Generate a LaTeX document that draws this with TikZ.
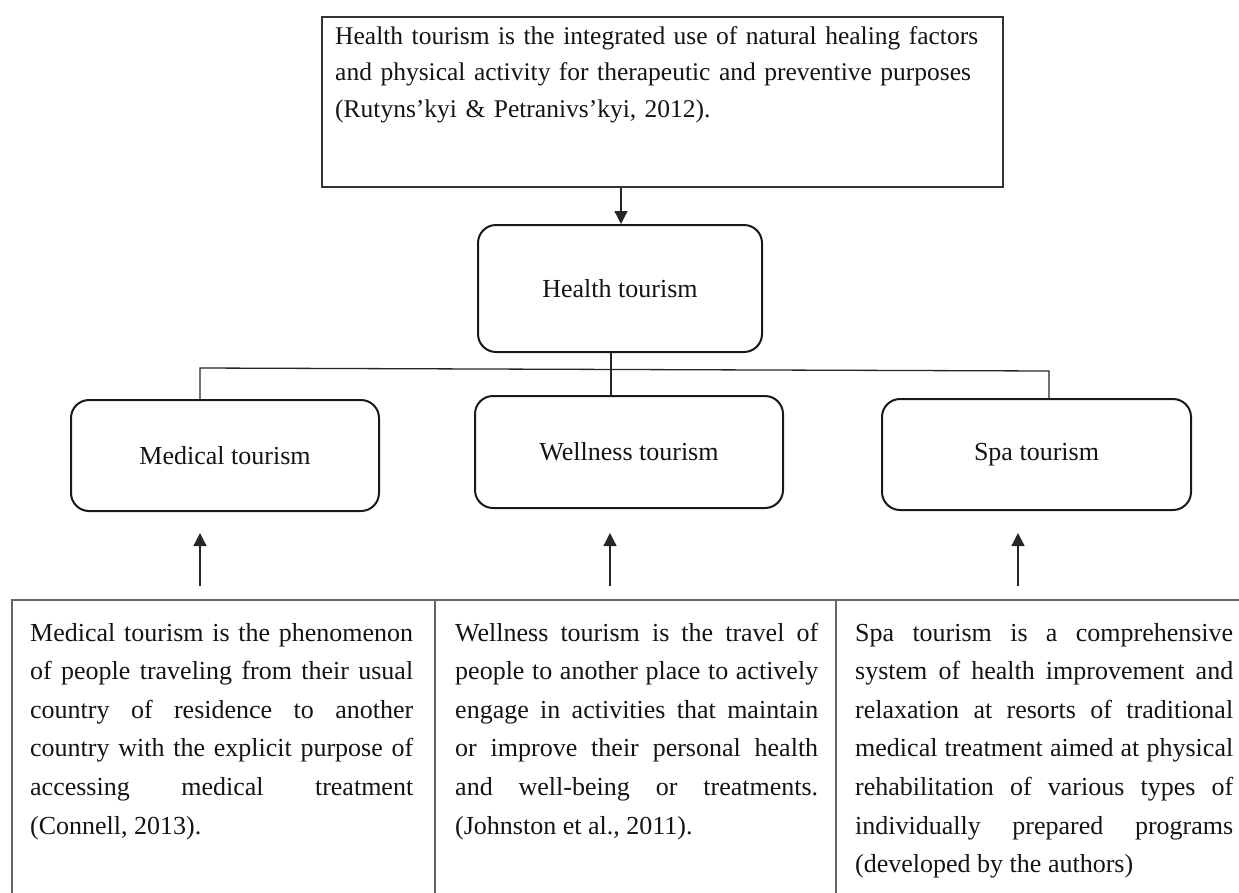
\documentclass[tikz,border=0pt]{standalone}
\usepackage{fontspec}
\setmainfont{Liberation Serif}
\usetikzlibrary{arrows.meta,calc}
\tolerance=9999
\hbadness=10000
\hyphenpenalty=10000
\begin{document}
\begin{tikzpicture}[x=1pt,y=-1pt,
  txt/.style={inner sep=0pt, anchor=base west, font=\fontsize{26}{38.6}\selectfont, text=black!92},
  para/.style={txt, align=justify},
  toptext/.style={inner sep=0pt, anchor=base west, align=left, text=black!92,
    font=\fontsize{25.5}{36.6}\selectfont},
  topbox/.style={draw=black!80, line width=1.5pt, inner sep=0pt},
  rbox/.style={draw=black!90, line width=2pt, rounded corners=18pt, inner sep=0pt,
    font=\fontsize{26}{30}\selectfont, text=black!92},
  cell/.style={inner sep=0pt},
  conn/.style={draw=black!85, line width=1.3pt},
  arr/.style={conn, -{Triangle[length=13pt,width=13pt]}},
  frame/.style={draw=black!60, line width=2pt}]
\useasboundingbox (0,0) rectangle (1239,892);

% top definition box
\node[topbox, minimum width=681pt, minimum height=170pt] (top) at (662.5,102) {};
\node[toptext, text width=660pt] (toptxt) at (335,44)
  {Health tourism is the integrated use of natural healing factors\\
   and physical activity for therapeutic and preventive purposes\\
   (Rutyns’kyi \& Petranivs’kyi, 2012).};

% central and category boxes
\node[rbox, minimum width=284pt, minimum height=127pt] (health) at (620,288.5) {Health tourism};
\node[rbox, minimum width=308pt, minimum height=111pt] (med) at (225,455.5) {Medical tourism};
\node[rbox, minimum width=308pt, minimum height=112pt] (well) at (629,452) {Wellness tourism};
\node[rbox, minimum width=309pt, minimum height=111pt] (spa) at (1036.5,454.5) {Spa tourism};

% connectors
\coordinate (tc) at (621,0);
\draw[arr] (tc |- top.south) -- (tc |- health.north);
\coordinate (hc) at (611,0);
\draw[conn] (hc |- health.south) -- (hc |- well.north);
\coordinate (bl) at (200,368);
\coordinate (br) at (1049,371);
\draw[conn] (bl |- med.north) -- (bl) -- (br) -- (br |- spa.north);

% bottom table cells
\node[cell, minimum width=423pt, minimum height=300pt] (c1) at (223.5,750) {};
\node[cell, minimum width=401pt, minimum height=300pt] (c2) at (635.5,750) {};
\node[cell, minimum width=414pt, minimum height=300pt] (c3) at (1043,750) {};
\draw[frame] (c1.south west) -- (c1.north west) -- (c3.north east);
\draw[frame] (c2.north west) -- (c2.south west);
\draw[frame] (c3.north west) -- (c3.south west);

\node[para, text width=383pt] (medtxt) at (30,641)
  {Medical tourism is the phenomenon\linebreak
   of people traveling from their usual\linebreak
   country of residence to another\linebreak
   country with the explicit purpose of\linebreak
   accessing medical treatment\linebreak
   (Connell, 2013).};
\node[para, text width=363pt] (welltxt) at (455,641)
  {Wellness tourism is the travel of\linebreak
   people to another place to actively\linebreak
   engage in activities that maintain\linebreak
   or improve their personal health\linebreak
   and well-being or treatments.\linebreak
   (Johnston et al., 2011).};
\node[para, text width=378pt] (spatxt) at (855,641)
  {Spa tourism is a comprehensive\linebreak
   system of health improvement and\linebreak
   relaxation at resorts of traditional\linebreak
   medical treatment aimed at physical\linebreak
   rehabilitation of various types of\linebreak
   individually prepared programs\linebreak
   (developed by the authors)};

% upward arrows
\coordinate (ma0) at (200,586); \coordinate (ma1) at (200,533);
\coordinate (wa0) at (610,586); \coordinate (wa1) at (610,533);
\coordinate (sa0) at (1018,586); \coordinate (sa1) at (1018,533);
\draw[arr] (ma0) -- (ma1);
\draw[arr] (wa0) -- (wa1);
\draw[arr] (sa0) -- (sa1);
\end{tikzpicture}
\end{document}
